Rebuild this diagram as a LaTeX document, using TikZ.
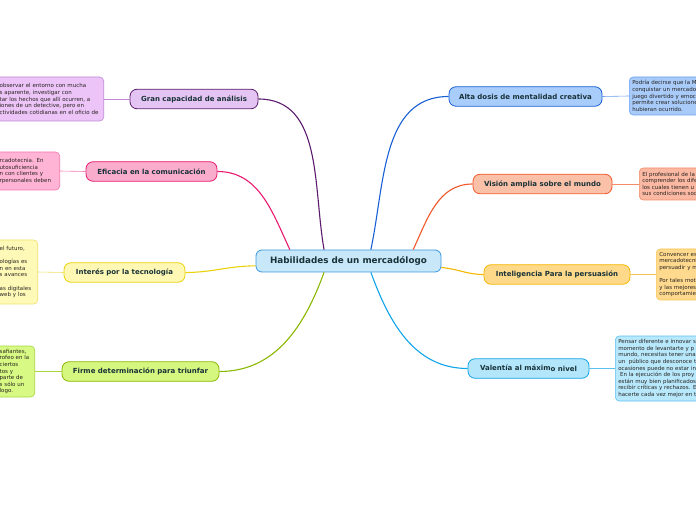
\documentclass[tikz,border=0pt]{standalone}
\usepackage{fontspec}
\setmainfont{DejaVu Sans}
\usetikzlibrary{calc}
\definecolor{txt}{RGB}{24,50,56}
\definecolor{ntxt}{RGB}{40,36,32}
\definecolor{hubD}{RGB}{58,150,220}
\definecolor{hubF}{RGB}{200,232,250}
% left branches
\definecolor{purD}{RGB}{92,26,110}
\definecolor{purF}{RGB}{228,196,242}
\definecolor{purN}{RGB}{236,196,248}
\definecolor{purB}{RGB}{190,135,215}
\definecolor{pnkD}{RGB}{232,25,110}
\definecolor{pnkF}{RGB}{250,172,205}
\definecolor{pnkN}{RGB}{255,180,213}
\definecolor{pnkB}{RGB}{245,120,176}
\definecolor{yelD}{RGB}{232,210,10}
\definecolor{yelF}{RGB}{255,248,180}
\definecolor{yelN}{RGB}{255,249,184}
\definecolor{yelB}{RGB}{240,224,106}
\definecolor{grnD}{RGB}{138,184,0}
\definecolor{grnF}{RGB}{214,247,127}
\definecolor{grnN}{RGB}{216,250,132}
\definecolor{grnB}{RGB}{168,214,64}
% right branches
\definecolor{bluD}{RGB}{26,95,214}
\definecolor{bluF}{RGB}{169,205,251}
\definecolor{bluN}{RGB}{168,203,250}
\definecolor{bluB}{RGB}{106,159,240}
\definecolor{orgD}{RGB}{240,87,42}
\definecolor{orgF}{RGB}{250,192,168}
\definecolor{orgN}{RGB}{251,185,163}
\definecolor{orgB}{RGB}{245,138,102}
\definecolor{gldD}{RGB}{245,184,0}
\definecolor{gldF}{RGB}{255,217,138}
\definecolor{gldN}{RGB}{255,217,142}
\definecolor{gldB}{RGB}{247,197,79}
\definecolor{skyD}{RGB}{16,164,232}
\definecolor{skyF}{RGB}{179,230,251}
\definecolor{skyN}{RGB}{184,232,252}
\definecolor{skyB}{RGB}{92,192,240}
\newcommand{\cutl}[1]{\hspace*{30pt}\mbox{#1}}

\begin{document}
\begin{tikzpicture}[x=1pt, y=1pt,
    hubbox/.style={draw=hubD, fill=hubF, line width=0.8pt, rounded corners=6pt,
      minimum width=185pt, minimum height=22pt, inner sep=0pt,
      font=\fontsize{8.8}{10}\selectfont\bfseries, text=txt},
    topic/.style={draw=#1D, fill=#1F, line width=0.8pt, rounded corners=7pt,
      minimum height=19.5pt, inner sep=0pt,
      font=\fontsize{7}{8}\selectfont\bfseries, text=txt},
    note/.style={draw=#1B, fill=#1N, line width=0.6pt, rounded corners=4pt,
      font=\fontsize{5.5}{6.6}\selectfont, text=ntxt, align=left,
      inner xsep=3pt, inner ysep=2pt},
    branch/.style={draw=#1D, line width=1.1pt},
    twig/.style={draw=#1B, line width=0.6pt}
  ]
    \useasboundingbox (0,0) rectangle (696,520);
    \clip (0,0) rectangle (696,520);

    % Centre
    \node[hubbox] (hub) at (348.5,259) {Habilidades de un mercadólogo};

    % Left topics
    \node[topic=pur, minimum width=128pt] (gran) at (194,421) {Gran capacidad de análisis};
    \node[topic=pnk, minimum width=131pt] (efic) at (151.5,348.5) {Eficacia en la comunicación};
    \node[topic=yel, minimum width=121pt] (tecno) at (124.5,247.5) {Interés por la tecnología};
    \node[topic=grn, minimum width=157pt] (firme) at (140.5,148.5) {Firme determinación para triunfar};

    % Right topics
    \node[topic=blu, minimum width=153pt] (alta) at (525.5,423.5) {Alta dosis de mentalidad creativa};
    \node[topic=org, minimum width=139pt] (vision) at (542.5,336) {Visión amplia sobre el mundo};
    \node[topic=gld, minimum width=146pt] (intel) at (557,245.5) {Inteligencia \raisebox{-0.8pt}{Para la persuasión}};
    \node[topic=sky, minimum width=121pt] (valen) at (528.5,151.5) {Valentía al máxim\raisebox{-0.8pt}{o nivel}};

    % Left notes
    \node[note=pur, anchor=east, text width=131pt, minimum height=44pt] (ngran) at (104,421)
      {\cutl{observar el entorno con mucha}\\
       \cutl{s aparente, investigar con}\\
       \cutl{tar los hechos que allí ocurren, a}\\
       \cutl{iones de un detective, pero en}\\
       \cutl{ctividades cotidianas en el oficio de}};
    \node[note=pnk, anchor=east, text width=87pt, minimum height=38pt] (nefic) at (60,349)
      {\cutl{rcadotecnia. En}\\
       \cutl{utosuficiencia}\\
       \cutl{n con clientes y}\\
       \cutl{rpersonales deben}};
    \node[note=yel, anchor=east, text width=65pt, minimum height=64pt] (ntecno) at (38,248)
      {\cutl{el futuro,}\\[6.6pt]
       \cutl{ologías es}\\
       \cutl{n en esta}\\
       \cutl{s avances}\\[6.6pt]
       \cutl{as digitales}\\
       \cutl{web y los}};
    \node[note=grn, anchor=east, text width=62pt, minimum height=51pt] (nfirme) at (35,148.5)
      {\cutl{safiantes,}\\
       \cutl{rofeo en la}\\
       \cutl{ciertos}\\
       \cutl{tos y}\\
       \cutl{parte de}\\
       \cutl{s sólo un}\\
       \cutl{logo.}};

    % Right notes
    \node[note=blu, anchor=west, text width=150pt, minimum height=38pt] (nalta) at (629,424)
      {Podría decirse que la M\\
       conquistar un mercado\\
       juego divertido y emoc\\
       permite crear solucione\\
       hubieran ocurrido.};
    \node[note=org, anchor=west, text width=150pt, minimum height=32pt] (nvision) at (639,336)
      {El profesional de la\\
       comprender los dife\\
       los cuales tienen u\\
       sus condiciones soc};
    \node[note=gld, anchor=west, text width=150pt, minimum height=51pt] (nintel) at (656,245.5)
      {Convencer es\\
       mercadotecnia\\
       persuadir y m\\[6.6pt]
       Por tales moti\\
       y las mejores\\
       comportamien};
    \node[note=sky, anchor=west, text width=150pt, minimum height=65pt] (nvalen) at (615,151.5)
      {Pensar diferente e innovar s\\
       momento de levantarte y p\\
       mundo, necesitas tener una\\
       un \ público que desconoce t\\
       ocasiones puede no estar in\\
       \ En la ejecución de los proy\\
       están muy bien planificados\\
       recibir críticas y rechazos. E\\
       hacerte cada vez mejor en t};

    % Branches
    \draw[branch=pur] (hub.155) to[out=100, in=0] (gran.east);
    \draw[branch=pnk] (hub.169) to[out=115, in=0] (efic.east);
    \draw[branch=yel] (hub.183) to[out=180, in=0] (tecno.east);
    \draw[branch=grn] (hub.205) to[out=250, in=0] (firme.east);
    \draw[branch=blu] (hub.27) to[out=78, in=180] (alta.west);
    \draw[branch=org] (hub.10) to[out=65, in=180] (vision.west);
    \draw[branch=gld] (hub.356) to[out=-5, in=180] (intel.west);
    \draw[branch=sky] (hub.333) to[out=-70, in=180] (valen.west);

    % Twigs to notes
    \draw[twig=pur] (ngran.east) -- (gran.west);
    \draw[twig=pnk] (nefic.east) -- (efic.west);
    \draw[twig=yel] (ntecno.east) -- (tecno.west);
    \draw[twig=grn] (nfirme.east) -- (firme.west);
    \draw[twig=blu] (alta.east) -- (nalta.west);
    \draw[twig=org] (vision.east) -- (nvision.west);
    \draw[twig=gld] (intel.east) -- (nintel.west);
    \draw[twig=sky] (valen.east) -- (nvalen.west);
\end{tikzpicture}
\end{document}
